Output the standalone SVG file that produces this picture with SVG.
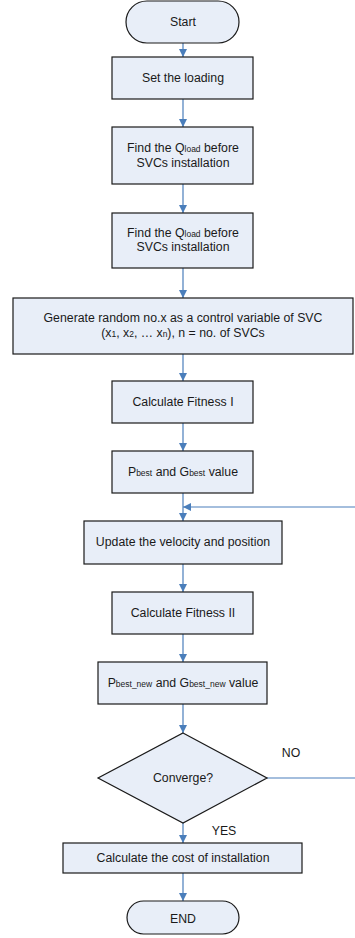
<svg xmlns="http://www.w3.org/2000/svg" width="355" height="938" viewBox="0 0 355 938">
<defs>
<marker id="ah" viewBox="0 0 10 10" refX="10" refY="5" markerWidth="8" markerHeight="8" markerUnits="userSpaceOnUse" orient="auto">
<path d="M0,0 L10,5 L0,10 z" fill="#4a7ebb"/>
</marker>
<style>
.n{fill:#e8eef8;stroke:#1a1a1a;stroke-width:1.2}
.t{font-family:"Liberation Sans",Arial,sans-serif;font-size:12.3px;fill:#1a1a1a;text-anchor:middle}
.s{font-size:8.5px}
.c{fill:none;stroke:#4a7ebb;stroke-width:1.2;marker-end:url(#ah)}
.l{fill:none;stroke:#4a7ebb;stroke-width:1.2}
</style>
</defs>
<rect width="355" height="938" fill="#ffffff"/>
<g id="connectors">
<line class="c" x1="183" y1="43" x2="183" y2="57"/>
<line class="c" x1="183" y1="99" x2="183" y2="127"/>
<line class="c" x1="183" y1="184" x2="183" y2="213"/>
<line class="c" x1="183" y1="268" x2="183" y2="298"/>
<line class="c" x1="183" y1="354" x2="183" y2="381"/>
<line class="c" x1="183" y1="423" x2="183" y2="451"/>
<line class="c" x1="183" y1="493" x2="183" y2="521"/>
<line class="c" x1="183" y1="564" x2="183" y2="592"/>
<line class="c" x1="183" y1="634" x2="183" y2="662"/>
<line class="c" x1="183" y1="704" x2="183" y2="733"/>
<line class="c" x1="183" y1="823" x2="183" y2="843"/>
<line class="c" x1="183" y1="873" x2="183" y2="901"/>
<line class="l" x1="267" y1="778" x2="360" y2="778"/>
<line class="c" x1="360" y1="507" x2="183" y2="507"/>
</g>
<g id="start">
<rect class="n" x="126" y="1" width="113" height="42" rx="21" ry="21"/>
<text class="t" x="183" y="26">Start</text>
</g>
<g id="set-loading">
<rect class="n" x="112" y="57" width="141" height="42"/>
<text class="t" x="183" y="82">Set the loading</text>
</g>
<g id="find-qload-1">
<rect class="n" x="112" y="127" width="141" height="57"/>
<text class="t" x="183" y="152">Find the Q<tspan class="s">load</tspan> before</text>
<text class="t" x="183" y="167">SVCs installation</text>
</g>
<g id="find-qload-2">
<rect class="n" x="112" y="213" width="141" height="55"/>
<text class="t" x="183" y="237">Find the Q<tspan class="s">load</tspan> before</text>
<text class="t" x="183" y="251">SVCs installation</text>
</g>
<g id="generate">
<rect class="n" x="13" y="298" width="340" height="56"/>
<text class="t" x="183" y="322">Generate random no.x as a control variable of SVC</text>
<text class="t" x="183" y="337">(x<tspan class="s">1</tspan>, x<tspan class="s">2</tspan>, … x<tspan class="s">n</tspan>), n = no. of SVCs</text>
</g>
<g id="fitness-1">
<rect class="n" x="112" y="381" width="141" height="42"/>
<text class="t" x="183" y="406">Calculate Fitness I</text>
</g>
<g id="pbest">
<rect class="n" x="112" y="451" width="141" height="42"/>
<text class="t" x="183" y="476">P<tspan class="s">best</tspan> and G<tspan class="s">best</tspan> value</text>
</g>
<g id="update">
<rect class="n" x="84" y="521" width="198" height="43"/>
<text class="t" x="183" y="546">Update the velocity and position</text>
</g>
<g id="fitness-2">
<rect class="n" x="112" y="592" width="141" height="42"/>
<text class="t" x="183" y="617">Calculate Fitness II</text>
</g>
<g id="pbest-new">
<rect class="n" x="98" y="662" width="169" height="42"/>
<text class="t" x="183" y="687">P<tspan class="s">best_new</tspan> and G<tspan class="s">best_new</tspan> value</text>
</g>
<g id="converge">
<polygon class="n" points="183,733 267,778 183,823 98,778"/>
<text class="t" x="183" y="782">Converge?</text>
</g>
<g id="labels">
<text class="t" x="291" y="757">NO</text>
<text class="t" x="224" y="835">YES</text>
</g>
<g id="cost">
<rect class="n" x="63" y="843" width="239" height="30"/>
<text class="t" x="183" y="862">Calculate the cost of installation</text>
</g>
<g id="end">
<rect class="n" x="127" y="901" width="112" height="33" rx="16.5" ry="16.5"/>
<text class="t" x="183" y="923">END</text>
</g>
</svg>
